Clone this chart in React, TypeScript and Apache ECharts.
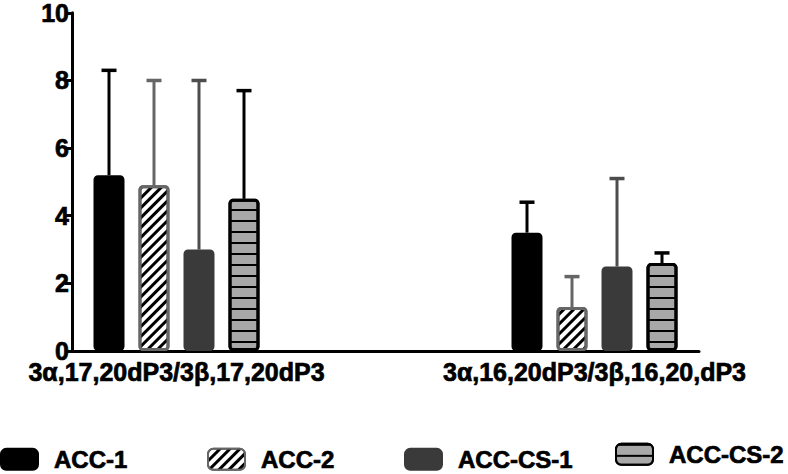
import React, { useEffect, useRef } from "react";
import * as echarts from "echarts";

const categories = ["3α,17,20dP3/3β,17,20dP3", "", "3α,16,20dP3/3β,16,20,dP3"];
const seriesNames = ["ACC-1", "ACC-2", "ACC-CS-1", "ACC-CS-2"];
const meanAcc1 = [5.2, null, 3.5];
const meanAcc2 = [4.9, null, 1.3];
const meanAccCs1 = [3.0, null, 2.5];
const meanAccCs2 = [4.5, null, 2.6];
const upperAcc1 = [8.3, null, 4.4];
const upperAcc2 = [8.0, null, 2.2];
const upperAccCs1 = [8.0, null, 5.1];
const upperAccCs2 = [7.7, null, 2.9];
const yTicks = [0, 2, 4, 6, 8, 10];

const means = [meanAcc1, meanAcc2, meanAccCs1, meanAccCs2];
const uppers = [upperAcc1, upperAcc2, upperAccCs1, upperAccCs2];

const BAR_W = 31;
const GAP = 14;
const FONT = "Liberation Sans, Arial, sans-serif";

const fills = ["#000000", "#ffffff", "#3a3a3a", "#a8a8a8"];
const borders = ["#000000", "#666666", "#3a3a3a", "#000000"];
const errColors = ["#000000", "#666666", "#4d4d4d", "#000000"];
const decals: any[] = [
  null,
  { symbol: "rect", symbolSize: 1, color: "#000000", dashArrayX: [1, 0], dashArrayY: [2.2, 3.6], rotation: -Math.PI / 4 },
  null,
  { symbol: "rect", symbolSize: 1, color: "#000000", dashArrayX: [1, 0], dashArrayY: [2, 8.3], rotation: 0 },
];
const legendLeft = [0, 207, 404, 615];
const legendTop = [447, 447, 447, 442];

const boldText = {
  fontFamily: FONT,
  fontWeight: "bold",
  color: "#000",
  textBorderColor: "#000",
  textBorderWidth: 0.7,
};

export default function App() {
  const ref = useRef<HTMLDivElement>(null);
  useEffect(() => {
    if (!ref.current) return;
    const chart = echarts.init(ref.current, null, { renderer: "svg" });
    const total = 4 * BAR_W + 3 * GAP;

    const barSeries = seriesNames.map((name, i) => {
      const itemStyle: any = {
        color: fills[i],
        borderColor: borders[i],
        borderWidth: 3,
        borderRadius: 3,
      };
      if (decals[i]) itemStyle.decal = decals[i];
      return {
        name,
        type: "bar",
        barWidth: BAR_W,
        barGap: (GAP / BAR_W) * 100 + "%",
        data: means[i].map((v) => (v === null ? "-" : v)),
        itemStyle,
        z: 3,
      };
    });

    const errSeries = seriesNames.map((name, i) => ({
      type: "custom",
      name: name + " error",
      z: 2,
      data: means[i]
        .map((v, k) => (v === null ? null : [k, v, uppers[i][k]]))
        .filter((d) => d !== null),
      encode: { x: 0, y: [1, 2] },
      renderItem: (params: any, api: any) => {
        const k = api.value(0);
        const top = api.coord([k, api.value(1)]);
        const hi = api.coord([k, api.value(2)]);
        const x = top[0] - total / 2 + BAR_W / 2 + i * (BAR_W + GAP);
        const style = { stroke: errColors[i], lineWidth: 3, fill: "none" };
        return {
          type: "group",
          children: [
            { type: "line", shape: { x1: x, y1: top[1], x2: x, y2: hi[1] }, style },
            { type: "line", shape: { x1: x - 7.5, y1: hi[1], x2: x + 7.5, y2: hi[1] }, style: { ...style, lineWidth: 3.5 } },
          ],
        };
      },
    }));

    const legends = seriesNames.map((name, i) => ({
      data: [name],
      left: legendLeft[i],
      top: legendTop[i],
      padding: 0,
      itemWidth: 37,
      itemHeight: 21,
      icon: "roundRect",
      selectedMode: false,
      textStyle: {
        ...boldText,
        fontSize: 24,
        padding: [0, 0, 0, 11],
      },
    }));

    chart.setOption({
      animation: false,
      textStyle: { fontFamily: FONT },
      grid: { left: 72, right: 89, top: 10, bottom: 123, containLabel: false },
      legend: legends,
      xAxis: {
        type: "category",
        data: categories,
        axisLine: { lineStyle: { color: "#000", width: 3 } },
        axisTick: { alignWithLabel: true, interval: 0, length: 5, lineStyle: { color: "#000", width: 3 } },
        axisLabel: {
          interval: 0,
          margin: 11,
          fontSize: 25,
          lineHeight: 20,
          ...boldText,
        },
        splitLine: { show: false },
      },
      yAxis: {
        type: "value",
        min: yTicks[0],
        max: yTicks[yTicks.length - 1],
        interval: 2,
        axisLine: { show: true, lineStyle: { color: "#000", width: 3 } },
        axisTick: { show: true, length: 7, lineStyle: { color: "#000", width: 3 } },
        axisLabel: {
          margin: 3,
          fontSize: 25,
          lineHeight: 18,
          ...boldText,
        },
        splitLine: { show: false },
      },
      series: [...errSeries, ...barSeries],
    });
    return () => chart.dispose();
  }, []);
  return <div ref={ref} style={{ width: 788, height: 474, position: "absolute", left: 0, top: 0 }} />;
}
